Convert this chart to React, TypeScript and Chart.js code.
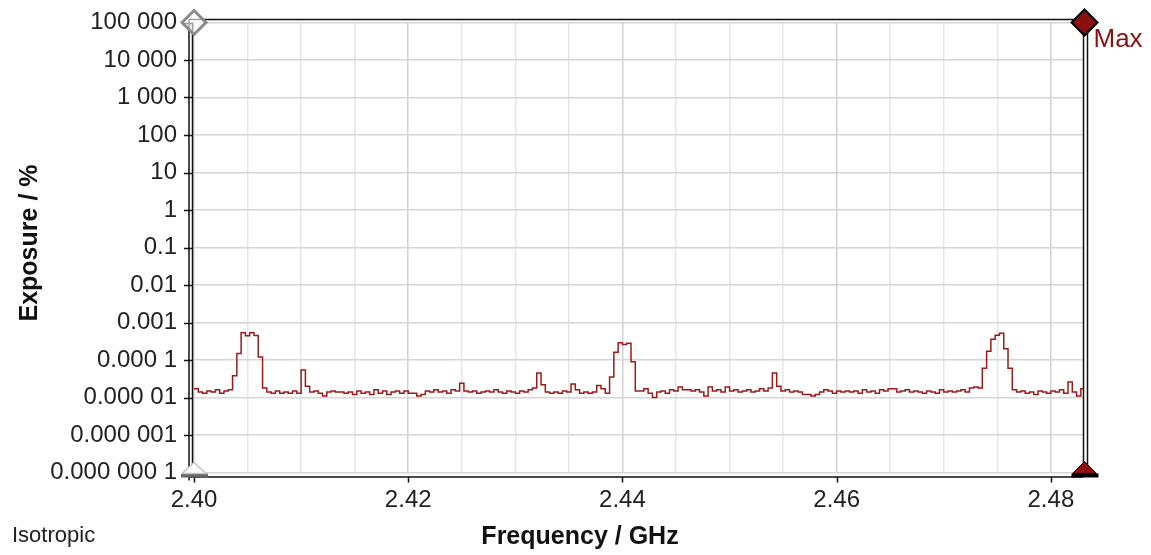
import { useEffect, useRef } from 'react';
import { Chart, registerables } from 'chart.js';

Chart.register(...registerables);

// ---- data ----
const FREQ_START = 2.4; // GHz, first sample
const FREQ_STEP = 0.0004; // GHz between samples

// Exposure in % (one value per sample)
const exposure: number[] = [
  1.7e-5, 1.4e-5, 1.3e-5, 1.5e-5, 1.4e-5, 1.6e-5, 1.3e-5, 1.5e-5, 1.6e-5, 3.8e-5,
  1.5e-4, 5.3e-4, 4.4e-4, 5.3e-4, 4.5e-4, 1.2e-4, 1.8e-5, 1.4e-5, 1.3e-5, 1.5e-5,
  1.3e-5, 1.4e-5, 1.3e-5, 1.5e-5, 1.3e-5, 5.4e-5, 2.0e-5, 1.4e-5, 1.5e-5, 1.3e-5,
  1.1e-5, 1.4e-5, 1.5e-5, 1.4e-5, 1.4e-5, 1.3e-5, 1.4e-5, 1.2e-5, 1.5e-5, 1.3e-5,
  1.4e-5, 1.2e-5, 1.6e-5, 1.3e-5, 1.5e-5, 1.2e-5, 1.4e-5, 1.5e-5, 1.3e-5, 1.5e-5,
  1.3e-5, 1.3e-5, 1.1e-5, 1.2e-5, 1.5e-5, 1.4e-5, 1.6e-5, 1.4e-5, 1.5e-5, 1.3e-5,
  1.6e-5, 1.5e-5, 2.4e-5, 1.5e-5, 1.4e-5, 1.5e-5, 1.3e-5, 1.4e-5, 1.5e-5, 1.4e-5,
  1.6e-5, 1.4e-5, 1.3e-5, 1.5e-5, 1.4e-5, 1.3e-5, 1.5e-5, 1.4e-5, 1.6e-5, 1.8e-5,
  4.5e-5, 2.2e-5, 1.4e-5, 1.3e-5, 1.4e-5, 1.3e-5, 1.5e-5, 1.4e-5, 2.3e-5, 1.6e-5,
  1.3e-5, 1.4e-5, 1.3e-5, 1.4e-5, 2.1e-5, 1.7e-5, 1.3e-5, 3.5e-5, 1.6e-4, 2.9e-4,
  2.6e-4, 2.8e-4, 9.0e-5, 1.5e-5, 1.5e-5, 1.7e-5, 1.3e-5, 1.0e-5, 1.4e-5, 1.5e-5,
  1.3e-5, 1.6e-5, 1.5e-5, 1.9e-5, 1.6e-5, 1.6e-5, 1.5e-5, 1.6e-5, 1.4e-5, 1.1e-5,
  1.9e-5, 1.5e-5, 1.6e-5, 1.4e-5, 1.9e-5, 1.5e-5, 1.6e-5, 1.4e-5, 1.5e-5, 1.6e-5,
  1.4e-5, 1.5e-5, 1.7e-5, 1.5e-5, 1.8e-5, 4.5e-5, 2.0e-5, 1.5e-5, 1.6e-5, 1.4e-5,
  1.5e-5, 1.4e-5, 1.2e-5, 1.2e-5, 1.1e-5, 1.2e-5, 1.4e-5, 1.6e-5, 1.5e-5, 1.3e-5,
  1.5e-5, 1.4e-5, 1.5e-5, 1.4e-5, 1.5e-5, 1.3e-5, 1.6e-5, 1.4e-5, 1.5e-5, 1.3e-5,
  1.6e-5, 1.5e-5, 1.7e-5, 1.7e-5, 1.4e-5, 1.5e-5, 1.6e-5, 1.4e-5, 1.5e-5, 1.4e-5,
  1.3e-5, 1.5e-5, 1.4e-5, 1.3e-5, 1.6e-5, 1.4e-5, 1.5e-5, 1.4e-5, 1.5e-5, 1.6e-5,
  1.4e-5, 1.8e-5, 1.9e-5, 1.8e-5, 6.0e-5, 1.7e-4, 3.6e-4, 4.6e-4, 5.2e-4, 2.0e-4,
  6.0e-5, 1.6e-5, 1.4e-5, 1.5e-5, 1.3e-5, 1.4e-5, 1.2e-5, 1.5e-5, 1.4e-5, 1.3e-5,
  1.5e-5, 1.4e-5, 1.6e-5, 1.3e-5, 2.6e-5, 1.4e-5, 1.1e-5, 1.7e-5, 1.8e-5,
];

const X_MIN = 2.4;
const X_MAX = 2.483;
const xTickValues = [
  2.4, 2.405, 2.41, 2.415, 2.42, 2.425, 2.43, 2.435, 2.44, 2.445, 2.45, 2.455, 2.46,
  2.465, 2.47, 2.475, 2.48,
];
const yTickValues = [1e-7, 1e-6, 1e-5, 1e-4, 1e-3, 1e-2, 1e-1, 1, 10, 100, 1e3, 1e4, 1e5];
const yTickLabels = [
  '0.000 000 1', '0.000 001', '0.000 01', '0.000 1', '0.001', '0.01', '0.1', '1', '10', '100',
  '1 000', '10 000', '100 000',
];
const X_TITLE = 'Frequency / GHz';
const Y_TITLE = 'Exposure / %';
const FOOTNOTE = 'Isotropic';
const MARKER_LABEL = 'Max';

const FONT = "'Liberation Sans', Arial, sans-serif";
const TRACE = '#9a1a1a';
const MAROON = '#8b0f0f';

const isMajorX = (v: number) => Math.abs(v * 50 - Math.round(v * 50)) < 1e-6;

const decorPlugin = {
  id: 'decor',
  afterDraw(chart: any) {
    const { ctx, chartArea } = chart;
    const xs = chart.scales.x;
    const ys = chart.scales.y;
    const L = xs.getPixelForValue(X_MIN);
    const R = chartArea.right;
    const T = ys.getPixelForValue(yTickValues[yTickValues.length - 1]);
    const B = ys.getPixelForValue(yTickValues[0]);
    ctx.save();

    // frame
    ctx.strokeStyle = '#111';
    ctx.lineWidth = 1.5;
    ctx.beginPath();
    ctx.moveTo(L - 5, T - 3);
    ctx.lineTo(R - 4, T - 3);
    ctx.moveTo(L - 5, B + 4.5);
    ctx.lineTo(R, B + 4.5);
    ctx.moveTo(L - 5, T - 3);
    ctx.lineTo(L - 5, B + 8);
    ctx.moveTo(L - 1.5, T);
    ctx.lineTo(L - 1.5, B + 4.5);
    ctx.moveTo(R + 0.5, T);
    ctx.lineTo(R + 0.5, B);
    ctx.moveTo(R + 4.5, T);
    ctx.lineTo(R + 4.5, B);
    ctx.stroke();

    // y ticks (crossing the axis)
    ctx.lineWidth = 1.5;
    ctx.beginPath();
    for (const v of yTickValues) {
      const y = Math.round(ys.getPixelForValue(v)) + 0.5;
      ctx.moveTo(L - 10, y);
      ctx.lineTo(L - 1, y);
    }
    // x ticks
    for (const v of xTickValues) {
      if (!isMajorX(v)) continue;
      const x = Math.round(xs.getPixelForValue(v)) + 0.5;
      ctx.moveTo(x, B + 4.5);
      ctx.lineTo(x, B + 10);
    }
    ctx.stroke();

    // left markers (grey)
    ctx.lineWidth = 3;
    ctx.strokeStyle = '#8a8a8a';
    ctx.fillStyle = 'rgba(255,255,255,0.6)';
    ctx.beginPath();
    ctx.moveTo(L, T - 12);
    ctx.lineTo(L + 12, T);
    ctx.lineTo(L, T + 12);
    ctx.lineTo(L - 12, T);
    ctx.closePath();
    ctx.fill();
    ctx.stroke();

    ctx.fillStyle = '#666';
    ctx.fillRect(L - 13, B + 1, 27, 4);
    ctx.lineWidth = 1.5;
    ctx.strokeStyle = '#c4c4c4';
    ctx.fillStyle = '#fff';
    ctx.beginPath();
    ctx.moveTo(L, B - 10);
    ctx.lineTo(L + 12, B + 1);
    ctx.lineTo(L - 12, B + 1);
    ctx.closePath();
    ctx.fill();
    ctx.stroke();

    // right markers (maroon)
    const RX = R + 1.5;
    ctx.lineWidth = 2;
    ctx.strokeStyle = '#000';
    ctx.fillStyle = MAROON;
    ctx.beginPath();
    ctx.moveTo(RX, T - 13);
    ctx.lineTo(RX + 13, T);
    ctx.lineTo(RX, T + 13);
    ctx.lineTo(RX - 13, T);
    ctx.closePath();
    ctx.fill();
    ctx.stroke();

    ctx.fillStyle = '#000';
    ctx.fillRect(RX - 13, B + 1, 27, 4);
    ctx.fillStyle = MAROON;
    ctx.beginPath();
    ctx.moveTo(RX, B - 11);
    ctx.lineTo(RX + 12, B + 1);
    ctx.lineTo(RX - 12, B + 1);
    ctx.closePath();
    ctx.fill();
    ctx.lineWidth = 1;
    ctx.stroke();

    // texts
    ctx.textBaseline = 'middle';
    ctx.fillStyle = MAROON;
    ctx.font = `26px ${FONT}`;
    ctx.textAlign = 'left';
    ctx.fillText(MARKER_LABEL, RX + 9, T + 17);

    ctx.fillStyle = '#222';
    ctx.font = `22px ${FONT}`;
    ctx.fillText(FOOTNOTE, 12, 536);

    ctx.fillStyle = '#111';
    ctx.font = `bold 25px ${FONT}`;
    ctx.textAlign = 'center';
    ctx.fillText(X_TITLE, 580, 537);

    ctx.translate(30, 243);
    ctx.rotate(-Math.PI / 2);
    ctx.fillText(Y_TITLE, 0, 0);

    ctx.restore();
  },
};

export default function App() {
  const ref = useRef<HTMLCanvasElement | null>(null);

  useEffect(() => {
    document.body.style.margin = '0';
    const canvas = ref.current;
    if (!canvas) return;
    const points = exposure.map((v, i) => ({ x: FREQ_START + i * FREQ_STEP, y: v }));
    const chart = new Chart(canvas, {
      type: 'line',
      data: {
        datasets: [
          {
            data: points,
            borderColor: TRACE,
            borderWidth: 1.5,
            pointRadius: 0,
            stepped: true,
            fill: false,
          },
        ],
      },
      options: {
        responsive: false,
        animation: false,
        layout: { padding: { left: 0, right: 68, top: 22.5, bottom: 0 } },
        plugins: { legend: { display: false }, tooltip: { enabled: false } },
        scales: {
          x: {
            type: 'linear',
            min: X_MIN,
            max: X_MAX,
            afterBuildTicks: (s: any) => {
              s.ticks = xTickValues.map((v) => ({ value: v }));
            },
            afterFit: (s: any) => {
              s.height = 82.5;
            },
            border: { display: false },
            grid: {
              drawTicks: false,
              color: (c: any) => (c.tick && isMajorX(c.tick.value) ? '#d2d2d2' : '#e6e6e6'),
              lineWidth: 1.5,
            },
            ticks: {
              autoSkip: false,
              maxRotation: 0,
              padding: 13,
              color: '#222',
              font: { family: FONT, size: 24 },
              callback: (v: any) => (isMajorX(Number(v)) ? Number(v).toFixed(2) : ''),
            },
          },
          y: {
            type: 'logarithmic',
            min: yTickValues[0],
            max: yTickValues[yTickValues.length - 1],
            afterBuildTicks: (s: any) => {
              s.ticks = yTickValues.map((v) => ({ value: v, major: true }));
            },
            afterFit: (s: any) => {
              s.width = 194;
            },
            border: { display: false },
            grid: {
              drawTicks: true,
              tickLength: 17,
              tickColor: 'rgba(0,0,0,0)',
              color: '#d6d6d6',
              lineWidth: 1.5,
            },
            ticks: {
              autoSkip: false,
              padding: 0,
              color: '#222',
              font: { family: FONT, size: 24 },
              callback: (_v: any, i: number) => yTickLabels[i],
            },
          },
        },
      },
      plugins: [decorPlugin],
    } as any);
    return () => chart.destroy();
  }, []);

  return <canvas ref={ref} width={1151} height={555} style={{ display: 'block' }} />;
}
